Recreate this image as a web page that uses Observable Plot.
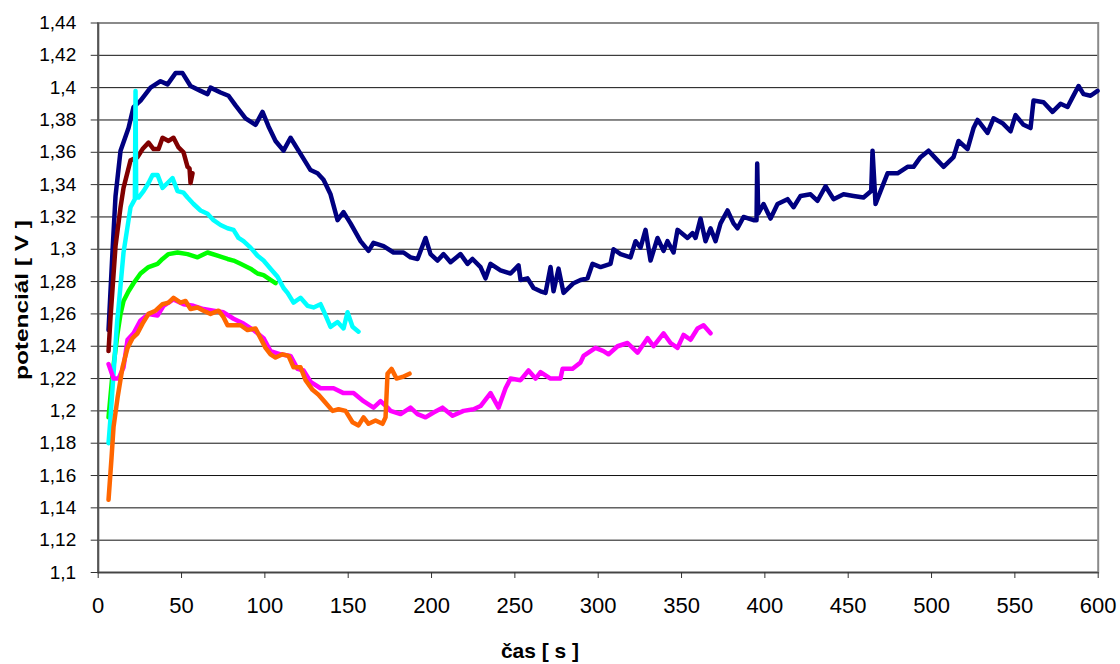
<!DOCTYPE html>
<html><head><meta charset="utf-8">
<script src="https://cdn.jsdelivr.net/npm/d3@7"></script>
<script src="https://cdn.jsdelivr.net/npm/@observablehq/plot@0.6"></script>
<style>body{margin:0;background:#fff}#chart svg{display:block}</style>
</head><body><div id="chart"></div>
<script>
// time [s], potential [V]
const navy = [[6.2,1.250],[8.6,1.299],[10.4,1.333],[13.4,1.361],[18.2,1.375],[21.2,1.388],[25.4,1.392],[31.4,1.400],[37.4,1.404],[41.6,1.402],[46.4,1.409],[50.6,1.409],[55.4,1.401],[61.4,1.398],[65.6,1.396],[67.4,1.400],[73.4,1.397],[78.2,1.395],[82.4,1.389],[88.4,1.381],[94.4,1.377],[98.6,1.385],[102.2,1.376],[106.4,1.367],[111.2,1.361],[115.4,1.369],[121.4,1.359],[127.4,1.349],[131.6,1.347],[135.2,1.343],[139.4,1.334],[143.6,1.318],[147.2,1.323],[151.4,1.316],[157.4,1.305],[162.2,1.299],[165.2,1.304],[171.2,1.302],[177.2,1.298],[183.2,1.298],[187.4,1.295],[191.6,1.294],[196.4,1.307],[199.4,1.297],[203.6,1.293],[207.2,1.297],[211.4,1.292],[217.4,1.297],[221.6,1.291],[224.6,1.294],[229.4,1.289],[232.4,1.282],[235.4,1.291],[241.4,1.287],[247.4,1.285],[252.2,1.290],[253.4,1.281],[257.6,1.282],[261.2,1.276],[265.4,1.274],[268.4,1.273],[271.4,1.289],[273.2,1.274],[276.2,1.288],[279.2,1.273],[285.2,1.279],[289.4,1.281],[293.6,1.282],[296.6,1.291],[301.4,1.289],[307.4,1.291],[309.2,1.300],[313.4,1.297],[319.4,1.295],[322.4,1.305],[325.4,1.301],[328.4,1.312],[331.4,1.293],[335.6,1.307],[339.2,1.299],[341.6,1.305],[345.2,1.298],[347.6,1.312],[353.6,1.307],[356.6,1.310],[358.4,1.307],[361.4,1.319],[364.4,1.305],[367.4,1.313],[370.4,1.305],[373.4,1.316],[377.6,1.324],[381.2,1.316],[383.6,1.313],[387.2,1.320],[393.2,1.318],[395.0,1.318],[395.4,1.353],[396.0,1.322],[399.2,1.328],[403.4,1.319],[407.6,1.328],[413.6,1.331],[417.2,1.326],[421.4,1.333],[427.4,1.334],[431.6,1.330],[436.4,1.339],[441.2,1.331],[447.2,1.334],[453.2,1.333],[459.2,1.332],[463.8,1.336],[464.6,1.361],[466.4,1.328],[469.4,1.336],[473.6,1.347],[479.6,1.347],[485.6,1.351],[489.2,1.351],[493.4,1.357],[498.2,1.361],[503.6,1.355],[507.2,1.351],[513.2,1.357],[516.2,1.367],[521.6,1.362],[525.2,1.375],[527.6,1.380],[533.6,1.372],[537.2,1.381],[542.6,1.378],[547.4,1.373],[550.4,1.383],[555.2,1.377],[559.4,1.375],[561.2,1.392],[567.2,1.391],[572.6,1.385],[577.4,1.390],[581.6,1.388],[584.6,1.394],[588.2,1.401],[591.2,1.396],[595.4,1.395],[599.6,1.398]];
const maroon = [[6.2,1.237],[7.4,1.258],[10.4,1.302],[13.4,1.326],[15.2,1.338],[19.4,1.355],[23.6,1.357],[26.6,1.362],[30.2,1.366],[33.2,1.362],[36.2,1.362],[38.6,1.369],[42.2,1.367],[45.2,1.369],[48.2,1.363],[51.2,1.360],[53.6,1.351],[54.8,1.350],[55.4,1.341],[56.6,1.347]];
const cyan = [[6.2,1.180],[7.4,1.196],[9.2,1.223],[11.4,1.256],[12.2,1.264],[15.2,1.298],[19.4,1.326],[22.0,1.331],[22.4,1.398],[22.8,1.332],[24.2,1.332],[27.2,1.336],[30.2,1.341],[32.6,1.346],[35.6,1.346],[38.6,1.338],[41.6,1.341],[44.6,1.344],[47.6,1.336],[51.2,1.335],[53.6,1.332],[57.2,1.328],[61.4,1.324],[65.6,1.322],[69.2,1.318],[73.4,1.315],[77.6,1.313],[81.2,1.312],[84.2,1.307],[87.2,1.305],[91.4,1.301],[95.6,1.296],[99.2,1.293],[103.4,1.288],[107.6,1.283],[111.2,1.276],[113.6,1.273],[117.2,1.267],[121.4,1.270],[125.6,1.265],[129.2,1.264],[133.4,1.266],[135.2,1.262],[139.4,1.252],[143.6,1.255],[147.2,1.251],[149.6,1.261],[152.6,1.252],[156.2,1.249]];
const green = [[6.2,1.196],[8.6,1.223],[11.6,1.248],[13.4,1.260],[15.2,1.268],[18.2,1.274],[21.2,1.279],[25.4,1.285],[30.2,1.289],[35.6,1.291],[38.6,1.294],[42.2,1.297],[47.6,1.298],[53.6,1.297],[59.6,1.295],[65.6,1.298],[71.6,1.296],[77.6,1.294],[81.2,1.293],[85.4,1.291],[91.4,1.288],[95.6,1.285],[99.2,1.284],[103.4,1.281],[106.4,1.279]];
const magenta = [[6.2,1.229],[9.2,1.220],[12.2,1.220],[15.2,1.227],[17.6,1.244],[21.2,1.248],[25.4,1.256],[30.2,1.260],[35.6,1.259],[39.2,1.265],[45.2,1.269],[51.2,1.266],[57.2,1.265],[63.2,1.263],[69.2,1.262],[75.2,1.261],[81.2,1.257],[87.2,1.254],[93.2,1.250],[99.2,1.245],[103.4,1.237],[109.4,1.235],[115.4,1.234],[119.6,1.226],[123.2,1.225],[127.4,1.218],[133.4,1.214],[141.2,1.214],[147.2,1.211],[153.2,1.211],[159.2,1.206],[165.2,1.202],[169.4,1.206],[173.6,1.202],[175.4,1.200],[181.4,1.198],[187.4,1.202],[191.6,1.198],[196.4,1.196],[201.2,1.199],[206.6,1.202],[212.6,1.197],[219.2,1.200],[225.2,1.201],[229.4,1.203],[235.4,1.211],[240.2,1.202],[244.4,1.214],[247.4,1.220],[253.4,1.219],[258.2,1.225],[262.4,1.220],[265.4,1.224],[271.4,1.220],[277.4,1.220],[278.6,1.226],[284.6,1.226],[289.4,1.230],[291.2,1.234],[298.4,1.239],[303.2,1.237],[306.2,1.235],[311.6,1.240],[317.6,1.242],[323.6,1.236],[329.6,1.245],[333.2,1.240],[339.2,1.248],[343.4,1.242],[347.6,1.239],[351.2,1.247],[355.4,1.244],[359.6,1.251],[363.2,1.253],[367.4,1.248]];
const orange = [[6.2,1.145],[8.0,1.171],[9.2,1.190],[11.6,1.208],[14.6,1.227],[17.6,1.239],[20.6,1.245],[23.6,1.248],[26.6,1.254],[30.2,1.260],[34.4,1.262],[38.6,1.266],[42.2,1.267],[45.2,1.270],[49.4,1.267],[52.4,1.268],[55.4,1.263],[59.6,1.264],[63.2,1.262],[67.4,1.260],[72.2,1.262],[75.2,1.258],[77.6,1.253],[81.2,1.253],[85.4,1.253],[89.6,1.250],[94.4,1.251],[97.4,1.245],[100.4,1.239],[103.4,1.235],[106.4,1.233],[110.6,1.235],[114.2,1.234],[117.2,1.227],[121.4,1.227],[124.4,1.219],[128.6,1.213],[132.2,1.210],[136.4,1.205],[140.6,1.200],[144.2,1.201],[148.4,1.200],[152.6,1.193],[156.2,1.191],[159.2,1.196],[162.2,1.192],[166.4,1.194],[170.6,1.192],[172.4,1.196],[173.6,1.223],[176.0,1.226],[179.0,1.220],[182.6,1.221],[186.8,1.223]];

// drawing order (first = bottom)
const seriesData = [navy, maroon, green, cyan, magenta, orange];
const seriesColors = ["#000080", "#800000", "#00FF00", "#00FFFF", "#FF00FF", "#FF6600"];

const xTicks = [0, 50, 100, 150, 200, 250, 300, 350, 400, 450, 500, 550, 600];
const yTicks = [1.1, 1.12, 1.14, 1.16, 1.18, 1.2, 1.22, 1.24, 1.26, 1.28, 1.3, 1.32, 1.34, 1.36, 1.38, 1.4, 1.42, 1.44];
const xTitle = "čas [ s ]";
const yTitle = "potenciál [ V ]";

const fmt = v => v.toFixed(2).replace(/0$/, "").replace(".", ",");

const lineMarks = seriesData.map((d, i) => Plot.line(d, {
  x: p => p[0], y: p => p[1], stroke: seriesColors[i], strokeWidth: 4.5,
  strokeLinejoin: "round", strokeLinecap: "round"
}));

const chart = Plot.plot({
  width: 1120, height: 664,
  marginLeft: 97.7, marginRight: 22.3, marginTop: 22.5, marginBottom: 92,
  style: {fontFamily: "'Liberation Sans', Arial, sans-serif", background: "#fff", color: "#000", overflow: "visible"},
  x: {domain: [0, 600]},
  y: {domain: [1.1, 1.44]},
  marks: [
    Plot.ruleY(yTicks, {stroke: "#111", strokeWidth: 1}),
    Plot.frame({stroke: "#8a8a8a", strokeWidth: 2}),
    Plot.ruleX([0], {stroke: "#555", strokeWidth: 2}),
    Plot.ruleY([1.1], {stroke: "#444", strokeWidth: 1.5}),
    Plot.axisY({ticks: yTicks, tickFormat: fmt, tickSize: 7, tickPadding: 15, fontSize: 19, label: null, stroke: "#333"}),
    Plot.axisX({ticks: xTicks, tickSize: 6, tickPadding: 19, fontSize: 22, label: null, stroke: "#333"}),
    ...lineMarks
  ]
});
document.getElementById("chart").appendChild(chart);

const svg = d3.select(chart);
svg.append("text")
  .attr("x", 540).attr("y", 658)
  .attr("text-anchor", "middle")
  .attr("font-family", "'Liberation Sans', Arial, sans-serif")
  .attr("font-weight", "bold").attr("font-size", 21)
  .attr("fill", "#000")
  .text(xTitle);
svg.append("text")
  .attr("transform", "translate(28,300) rotate(-90)")
  .attr("text-anchor", "middle")
  .attr("font-family", "'Liberation Sans', Arial, sans-serif")
  .attr("font-weight", "bold").attr("font-size", 19)
  .attr("textLength", 160).attr("lengthAdjust", "spacingAndGlyphs")
  .attr("fill", "#000")
  .text(yTitle);
</script>
</body></html>
